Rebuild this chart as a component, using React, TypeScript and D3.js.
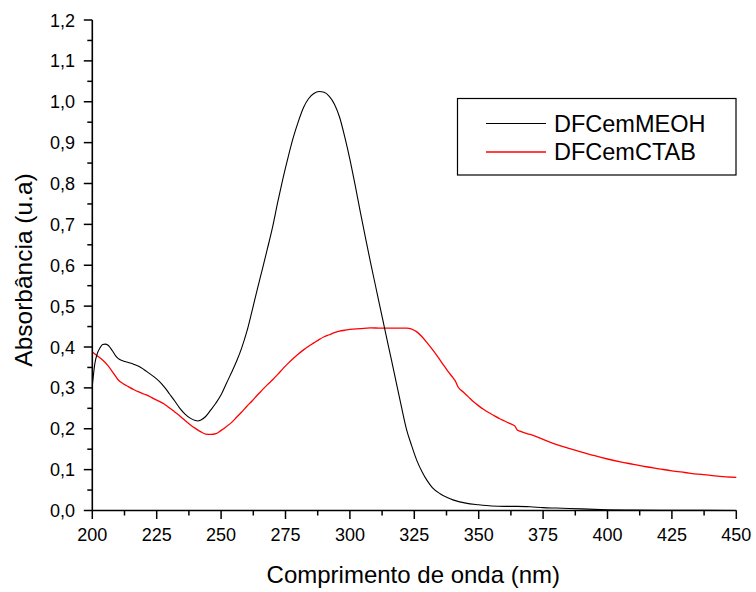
import React from "react";
import * as d3 from "d3";

const W = 756;
const H = 592;

const xTicks = [200, 225, 250, 275, 300, 325, 350, 375, 400, 425, 450];
const yTicks = [0, 0.1, 0.2, 0.3, 0.4, 0.5, 0.6, 0.7, 0.8, 0.9, 1.0, 1.1, 1.2];

const meohWl = [200, 201, 202, 203, 204, 205, 206, 207, 208, 209, 210, 212, 214, 216, 218, 220, 222, 224, 226, 228, 230, 232, 234, 236, 238, 240, 241, 242, 244, 246, 248, 250, 252, 254, 256, 258, 260, 262, 264, 266, 268, 270, 272, 274, 276, 278, 280, 282, 284, 286, 288, 290, 292, 294, 296, 298, 300, 302, 304, 306, 308, 310, 312, 314, 316, 318, 320, 322, 324, 326, 328, 330, 332, 335, 338, 340, 345, 350, 355, 360, 365, 370, 375, 380, 390, 400, 410, 425, 450];
const meohAbs = [0.305, 0.36, 0.385, 0.398, 0.406, 0.407, 0.405, 0.398, 0.389, 0.379, 0.372, 0.366, 0.362, 0.358, 0.353, 0.345, 0.336, 0.327, 0.316, 0.302, 0.285, 0.268, 0.250, 0.236, 0.226, 0.220, 0.219, 0.221, 0.230, 0.246, 0.263, 0.283, 0.310, 0.337, 0.365, 0.398, 0.438, 0.488, 0.540, 0.590, 0.641, 0.694, 0.755, 0.812, 0.864, 0.912, 0.952, 0.986, 1.008, 1.020, 1.025, 1.023, 1.013, 0.994, 0.962, 0.914, 0.859, 0.797, 0.732, 0.669, 0.607, 0.548, 0.489, 0.430, 0.372, 0.313, 0.254, 0.198, 0.158, 0.122, 0.095, 0.073, 0.056, 0.041, 0.031, 0.026, 0.018, 0.014, 0.011, 0.010, 0.010, 0.009, 0.007, 0.006, 0.004, 0.002, 0.001, 0.0005, 0.0];

const ctabWl = [200, 202, 204, 206, 208, 210, 212, 214, 216, 218, 220, 222, 224, 226, 228, 230, 232, 234, 236, 238, 240, 242, 244, 246, 248, 250, 252, 254, 256, 258, 260, 262, 264, 266, 268, 270, 272, 274, 276, 278, 280, 282, 284, 286, 288, 290, 292, 294, 296, 298, 300, 304, 308, 312, 316, 320, 322, 324, 326, 328, 330, 332, 334, 336, 338, 340, 341, 342, 344, 346, 348, 350, 352, 354, 356, 358, 360, 362, 364, 365, 366, 370, 375, 380, 385, 390, 395, 400, 405, 410, 415, 420, 425, 430, 435, 440, 445, 450];
const ctabAbs = [0.388, 0.378, 0.368, 0.355, 0.338, 0.320, 0.310, 0.303, 0.296, 0.290, 0.285, 0.280, 0.273, 0.267, 0.260, 0.251, 0.241, 0.231, 0.220, 0.210, 0.201, 0.193, 0.187, 0.186, 0.188, 0.196, 0.205, 0.215, 0.228, 0.241, 0.255, 0.268, 0.282, 0.295, 0.308, 0.320, 0.333, 0.347, 0.360, 0.372, 0.383, 0.393, 0.402, 0.410, 0.418, 0.425, 0.430, 0.435, 0.439, 0.441, 0.443, 0.445, 0.447, 0.446, 0.446, 0.446, 0.446, 0.444, 0.437, 0.425, 0.410, 0.394, 0.377, 0.359, 0.341, 0.325, 0.316, 0.302, 0.290, 0.278, 0.266, 0.256, 0.247, 0.239, 0.232, 0.225, 0.219, 0.213, 0.207, 0.197, 0.194, 0.186, 0.174, 0.162, 0.152, 0.143, 0.134, 0.126, 0.119, 0.113, 0.107, 0.102, 0.097, 0.093, 0.089, 0.086, 0.083, 0.081];

const seriesNames = ["DFCemMEOH", "DFCemCTAB"];
const seriesColors = ["#000000", "#ff0000"];

const FONT = "Arial, 'Liberation Sans', sans-serif";

export default function App() {
  const left = 92.3;
  const right = 736.3;
  const top = 20;
  const bottom = 510.5;

  const x = d3.scaleLinear().domain([200, 450]).range([left, right]);
  const y = d3.scaleLinear().domain([0, 1.2]).range([bottom, top]);

  const line = d3
    .line<[number, number]>()
    .x((d) => x(d[0]))
    .y((d) => y(d[1]))
    .curve(d3.curveMonotoneX);

  const meoh = meohWl.map((w, i) => [w, meohAbs[i]] as [number, number]);
  const ctab = ctabWl.map((w, i) => [w, ctabAbs[i]] as [number, number]);

  const xMinor = d3.range(212.5, 450, 25);
  const yMinor = d3.range(0, 12).map((i) => i * 0.1 + 0.05);

  const fmt = (v: number) => v.toFixed(1).replace(".", ",");

  return (
    <svg
      width={W}
      height={H}
      style={{ position: "absolute", left: 0, top: 0, background: "#fff" }}
      fontFamily={FONT}
    >
      <rect x={0} y={0} width={W} height={H} fill="#fff" />
      {/* curves */}
      <path d={line(ctab) || ""} fill="none" stroke={seriesColors[1]} strokeWidth={1.3} />
      <path d={line(meoh) || ""} fill="none" stroke={seriesColors[0]} strokeWidth={1.1} />

      {/* y axis */}
      <line x1={left} x2={left} y1={top} y2={bottom} stroke="#000" strokeWidth={1.6} />
      {yTicks.map((t) => (
        <g key={"yt" + t}>
          <line x1={left - 8.5} x2={left} y1={y(t)} y2={y(t)} stroke="#000" strokeWidth={1.5} />
          <text x={75} y={y(t) + 6.5} textAnchor="end" fontSize={18} fill="#000">
            {fmt(t)}
          </text>
        </g>
      ))}
      {yMinor.map((t) => (
        <line key={"ym" + t} x1={left - 5} x2={left} y1={y(t)} y2={y(t)} stroke="#000" strokeWidth={1.5} />
      ))}

      {/* x axis */}
      <line x1={left} x2={right} y1={bottom} y2={bottom} stroke="#000" strokeWidth={1.6} />
      {xTicks.map((t) => (
        <g key={"xt" + t}>
          <line x1={x(t)} x2={x(t)} y1={bottom} y2={bottom + 8.5} stroke="#000" strokeWidth={1.5} />
          <text x={x(t)} y={541} textAnchor="middle" fontSize={18} fill="#000">
            {t}
          </text>
        </g>
      ))}
      {xMinor.map((t) => (
        <line key={"xm" + t} x1={x(t)} x2={x(t)} y1={bottom} y2={bottom + 5} stroke="#000" strokeWidth={1.5} />
      ))}

      {/* axis titles */}
      <text x={(left + right) / 2 - 1} y={583} textAnchor="middle" fontSize={24} fill="#000">
        Comprimento de onda (nm)
      </text>
      <text
        transform={`translate(32, 270) rotate(-90)`}
        textAnchor="middle"
        fontSize={24.5}
        fill="#000"
      >
        Absorbância (u.a)
      </text>

      {/* legend */}
      <rect x={457.5} y={98.5} width={278.5} height={76.5} fill="#fff" stroke="#000" strokeWidth={1.2} />
      {seriesNames.map((n, i) => {
        const cy = 123.5 + i * 28.5;
        return (
          <g key={n}>
            <line x1={486} x2={546} y1={cy} y2={cy} stroke={seriesColors[i]} strokeWidth={i === 0 ? 1.1 : 1.3} />
            <text x={554} y={cy + 8} fontSize={23.5} fill="#000">
              {n}
            </text>
          </g>
        );
      })}
    </svg>
  );
}
